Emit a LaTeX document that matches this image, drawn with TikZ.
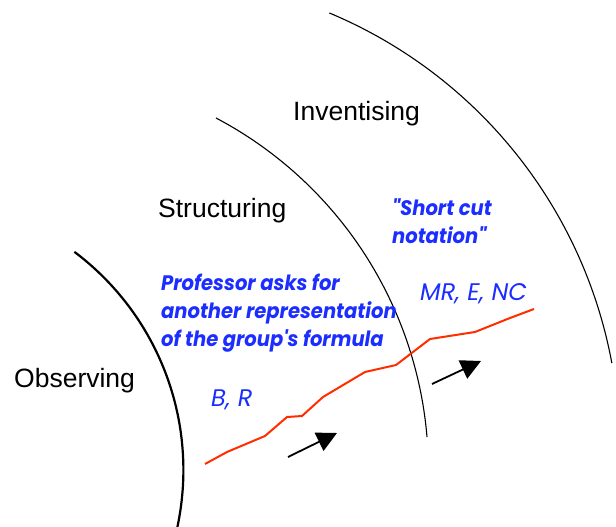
\documentclass[tikz,border=0pt]{standalone}
\usepackage{fontspec}
\setmainfont{Liberation Sans}
\newfontfamily\geo{Poppins}
\newfontfamily\geob{Poppins}[FakeStretch=0.93]
\usetikzlibrary{arrows.meta}
\definecolor{lblue}{RGB}{28,45,255}
\definecolor{lred}{RGB}{255,45,0}
\tikzset{
  phase/.style={anchor=base west, inner sep=0pt, font=\fontsize{26.5}{30}\selectfont},
  note/.style={anchor=base west, inner sep=0pt, text=lblue, font=\geob\bfseries\itshape\fontsize{21}{28}\selectfont},
  code/.style={anchor=base west, inner sep=0pt, text=lblue, font=\geo\itshape\fontsize{24}{28}\selectfont},
  arc/.style={draw=black, line width=1.1pt},
  thickarc/.style={draw=black, line width=2.2pt},
  path/.style={draw=lred, line width=2pt, line join=round},
  move/.style={draw=black, line width=1.8pt, -{Triangle[length=20pt,width=20pt]}}
}
\begin{document}
\begin{tikzpicture}[x=1pt,y=-1pt]
\path[fill=white] (0,0) rectangle (616,527);
\useasboundingbox (0,0) rectangle (616,527);

% arcs (circle fits in pixel frame)
\draw[thickarc] plot[domain=-53.1:12.1, samples=60, smooth] ({-89.4+272.8*cos(\x)},{470+272.8*sin(\x)});
\draw[arc] plot[domain=-62.2:-4.77, samples=60, smooth] ({30.3+398.1*cos(\x)},{470.1+398.1*sin(\x)});
\draw[arc] plot[domain=-67.3:-10.5, samples=60, smooth] ({146.8+473*cos(\x)},{449.3+473*sin(\x)});

% phase labels
\node[phase] (inv) at (293,120) {Inventising};
\node[phase] (str) at (158,217) {Structuring};
\node[phase] (obs) at (14,387) {Observing};

% notes
\node[note] (prof) at (161,290) {\begin{tabular}[t]{@{}l@{}}Professor asks for\\another representation\\of the group's formula\end{tabular}};
\node[note] (short) at (392,215) {\begin{tabular}[t]{@{}l@{}}"Short cut\\notation"\end{tabular}};
\node[code] (mr) at (420,300) {MR, E, NC};
\node[code] (br) at (211,406) {B, R};

% red trajectory
\draw[path] (205,464) -- (227,452) -- (265,436) -- (287,417) -- (302,416) -- (323,397) -- (365,372) -- (396,365) -- (430,339) -- (475,332) -- (510,318) -- (534,309);

% arrows
\coordinate (a1s) at (288,457);
\coordinate (a1e) at (337,433);
\coordinate (a2s) at (432,384);
\coordinate (a2e) at (481,361);
\draw[move] (a1s) -- (a1e);
\draw[move] (a2s) -- (a2e);
\end{tikzpicture}
\end{document}
